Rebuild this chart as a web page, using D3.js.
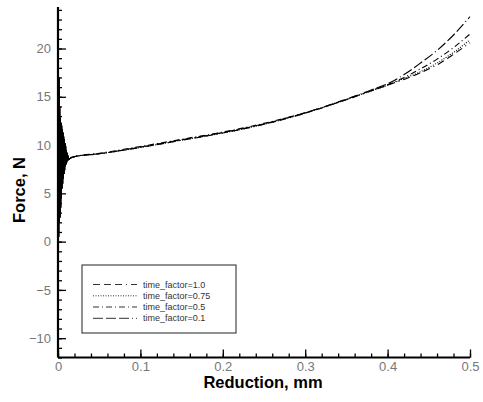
<!DOCTYPE html>
<html><head><meta charset="utf-8">
<script src="https://cdn.jsdelivr.net/npm/d3@7/dist/d3.min.js"></script>
<style>body{margin:0;background:#fff}svg{display:block}</style>
</head><body>
<script>
// ---- data ----
const xTicks = [0, 0.1, 0.2, 0.3, 0.4, 0.5];
const yTicks = [-10, -5, 0, 5, 10, 15, 20];
const seriesNames = ["time_factor=1.0", "time_factor=0.75", "time_factor=0.5", "time_factor=0.1"];
// initial transient oscillation (shared by all runs)
const oscX = [0, 0.0004, 0.0008, 0.0012, 0.0016, 0.002, 0.0024, 0.0028, 0.0032, 0.0036, 0.004, 0.0044, 0.0048, 0.0052, 0.0056, 0.006, 0.0064, 0.0068, 0.0072, 0.0076, 0.008, 0.0084, 0.0088, 0.0092, 0.0096, 0.01, 0.0105, 0.011, 0.0115, 0.012, 0.013];
const oscY = [0, 19.5, 0.5, 17, 2, 14, 2.5, 12.8, 3.5, 12.3, 4.5, 12, 5.5, 11.6, 6, 11.3, 6.5, 10.9, 7, 10.6, 7.4, 10.2, 7.8, 9.9, 8.0, 9.5, 8.2, 9.2, 8.4, 8.9, 8.5];
// smooth part
const curveX = [0.016, 0.02, 0.05, 0.1, 0.15, 0.2, 0.25, 0.3, 0.35, 0.38, 0.4, 0.42, 0.44, 0.46, 0.48, 0.5];
const tf10 = [8.7, 8.8, 9.1, 9.75, 10.5, 11.25, 12.15, 13.3, 14.7, 15.6, 16.2, 16.8, 17.5, 18.3, 19.4, 20.6];
const tf075 = [8.7, 8.8, 9.1, 9.75, 10.5, 11.25, 12.15, 13.3, 14.7, 15.6, 16.2, 16.9, 17.6, 18.5, 19.6, 20.9];
const tf05 = [8.7, 8.8, 9.15, 9.85, 10.6, 11.35, 12.25, 13.35, 14.75, 15.65, 16.25, 17.0, 17.9, 18.9, 20.1, 21.5];
const tf01 = [8.7, 8.8, 9.1, 9.8, 10.55, 11.3, 12.2, 13.35, 14.75, 15.7, 16.35, 17.3, 18.5, 19.8, 21.4, 23.3];
const seriesValues = [tf10, tf075, tf05, tf01];
const dashes = ["7,4,7,4,7,4,1,4", "1,1.5", "6,3,1,3", "10,3,10,3,10,3,1,3"];

// ---- chart ----
const W = 483, H = 402;
const svg = d3.select("body").append("svg").attr("width", W).attr("height", H);
const x = d3.scaleLinear().domain([0, 0.5]).range([58, 470]);
const y = d3.scaleLinear().domain([-12, 24.3]).range([357.5, 7]);

const line = d3.line().x(d => x(d[0])).y(d => y(d[1]));
const smoothLine = d3.line().curve(d3.curveMonotoneX).x(d => x(d[0])).y(d => y(d[1]));
const g = svg.append("g");
seriesValues.forEach((vals, i) => {
  const osc = oscX.map((v, j) => [v, oscY[j]]).concat([[curveX[0], vals[0]]]);
  g.append("path").datum(osc).attr("d", line)
    .attr("fill", "none").attr("stroke", "#000").attr("stroke-width", 1.2);
  const smooth = curveX.map((v, j) => [v, vals[j]]);
  g.append("path").datum(smooth).attr("d", smoothLine)
    .attr("fill", "none").attr("stroke", "#000").attr("stroke-width", 1.1)
    .attr("stroke-dasharray", dashes[i]);
});

// axes
const xMinor = d3.range(0, 0.5001, 0.02);
const yMinor = d3.range(-12, 24.01, 1);
const xAxisG = svg.append("g").attr("transform", `translate(0,${y(-12)})`);
xAxisG.call(d3.axisBottom(x).tickValues(xMinor).tickSize(-4).tickFormat(""));
xAxisG.select(".domain").remove();
const xMaj = svg.append("g").attr("transform", `translate(0,${y(-12)})`)
  .call(d3.axisBottom(x).tickValues(xTicks).tickSize(-8).tickPadding(4).tickFormat(d3.format("")));
xMaj.select(".domain").attr("stroke-width", 2.2).attr("d", `M${x(0)},0H${x(0.5)}`);
const yAxisG = svg.append("g").attr("transform", `translate(${x(0)},0)`);
yAxisG.call(d3.axisLeft(y).tickValues(yMinor).tickSize(-4).tickFormat(""));
yAxisG.select(".domain").remove();
const yMaj = svg.append("g").attr("transform", `translate(${x(0)},0)`)
  .call(d3.axisLeft(y).tickValues(yTicks).tickSize(-8).tickPadding(7).tickFormat(d3.format("")));
yMaj.select(".domain").attr("stroke-width", 2.2).attr("d", `M0,${y(-12)}V${y(24.3)}`);
svg.selectAll(".tick line").attr("stroke", "#000").attr("stroke-width", 1.3);
svg.selectAll(".tick text").attr("font-family", "Liberation Sans, Arial, sans-serif")
  .attr("font-size", 13).attr("fill", "#777");

// axis titles
svg.append("text").attr("x", 263).attr("y", 388).attr("text-anchor", "middle")
  .attr("font-family", "Liberation Sans, Arial, sans-serif").attr("font-weight", "bold")
  .attr("font-size", 16.5).text("Reduction, mm");
svg.append("text").attr("transform", "translate(25,190) rotate(-90)").attr("text-anchor", "middle")
  .attr("font-family", "Liberation Sans, Arial, sans-serif").attr("font-weight", "bold")
  .attr("font-size", 16.5).text("Force, N");

// legend
const lg = svg.append("g");
lg.append("rect").attr("x", 82).attr("y", 265).attr("width", 154).attr("height", 68)
  .attr("fill", "#fff").attr("stroke", "#222").attr("stroke-width", 1);
const rowY = [284.5, 295.8, 307, 318.3];
seriesNames.forEach((n, i) => {
  lg.append("line").attr("x1", 93).attr("x2", 137).attr("y1", rowY[i]).attr("y2", rowY[i])
    .attr("stroke", "#333").attr("stroke-width", 1).attr("stroke-dasharray", dashes[i]);
  lg.append("text").attr("x", 143).attr("y", rowY[i] + 3).attr("font-size", 9)
    .attr("font-family", "Liberation Sans, Arial, sans-serif").attr("fill", "#333").text(n);
});
</script>
</body></html>
